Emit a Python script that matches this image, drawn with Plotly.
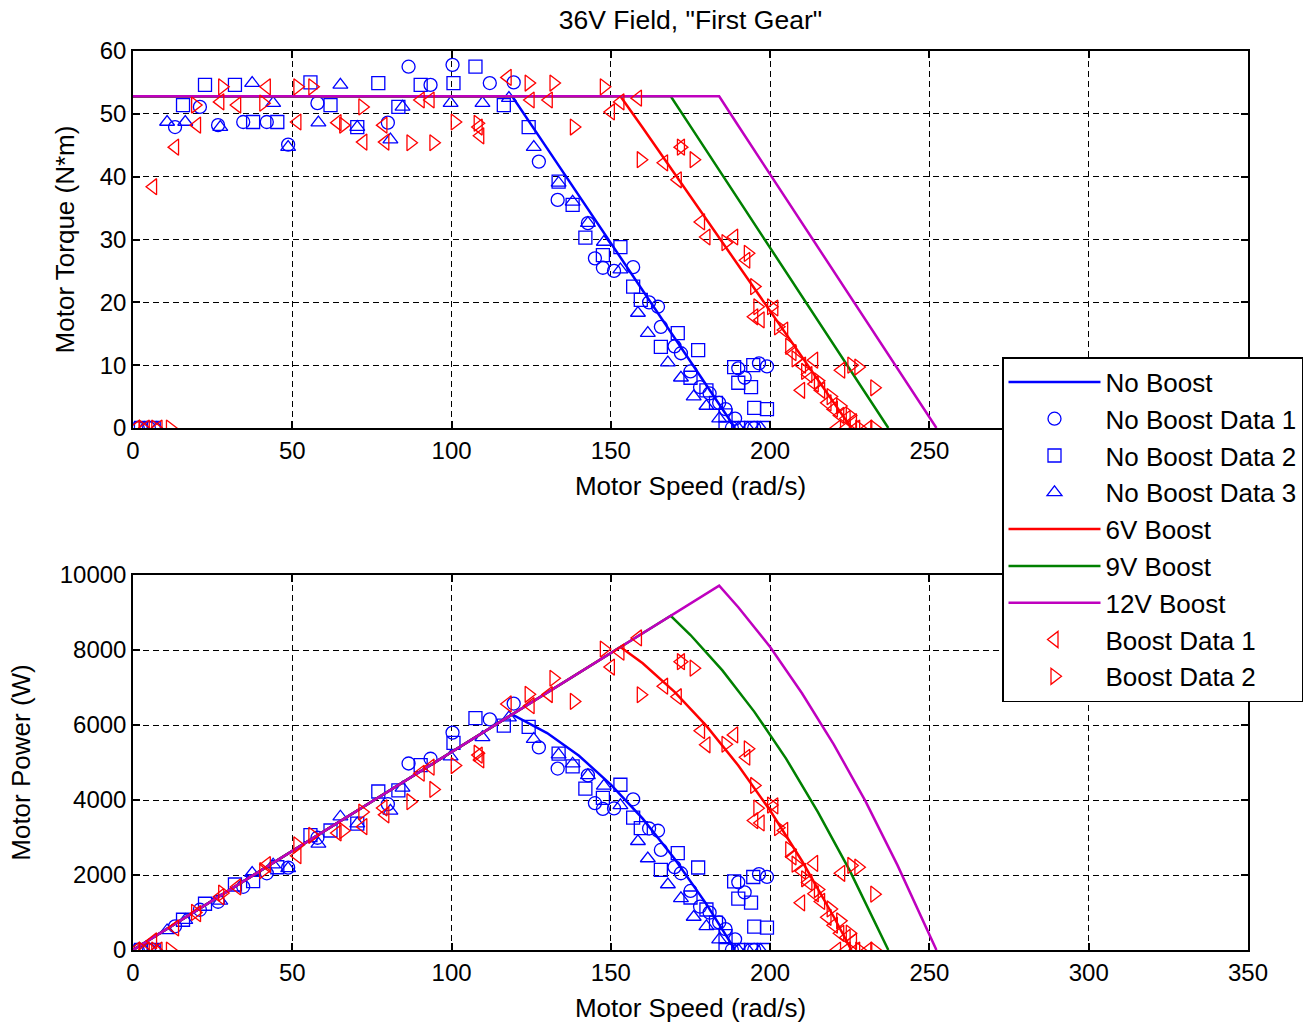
import numpy as np
import plotly.graph_objects as go

# ---- model curves: torque (N*m) vs speed (rad/s) ----
nb_line_speed = [0, 119, 130, 140, 150, 160, 170, 180, 189]
nb_line_torque = [52.8, 52.8, 44.5, 37.0, 29.4, 21.9, 14.3, 6.8, 0]

b6_line_speed = [0, 153, 160, 170, 180, 190, 200, 210, 220, 225.5]
b6_line_torque = [52.8, 52.8, 47.8, 40.5, 33.2, 25.9, 18.6, 11.3, 4.0, 0]

b9_line_speed = [0, 168.8, 175, 185, 195, 205, 215, 225, 237.1]
b9_line_torque = [52.8, 52.8, 48.0, 40.3, 32.6, 24.9, 17.1, 9.4, 0]

b12_line_speed = [0, 184, 190, 200, 210, 220, 230, 240, 252.2]
b12_line_torque = [52.8, 52.8, 48.1, 40.4, 32.6, 24.9, 17.2, 9.4, 0]

# ---- measured data: speed (rad/s), torque (N*m) ----
nb1_speed = [1.5, 5, 13.2, 21, 26.7, 34.6, 42, 48.7, 57.9, 80, 86.5, 93.4, 100.3, 112, 119.5,
             127.4, 133.3, 142.8, 145, 147.5, 151, 157, 162, 164.8, 165.7, 170, 172, 175, 178,
             181, 184, 186, 189, 190, 192, 196.5, 199, 188, 195]
nb1_torque = [0, 0, 47.9, 51.1, 48.2, 48.7, 48.7, 45.1, 51.7, 48.6, 57.5, 54.6, 57.8, 54.9, 55,
              42.4, 36.3, 32.6, 27, 25.5, 25, 25.6, 20, 19.3, 16.1, 13, 11.9, 9, 6.5,
              5.5, 4, 3, 1.5, 9.5, 8, 10.3, 9.8, 0, 0]

nb2_speed = [2.5, 6.5, 15.7, 22.6, 32, 37.7, 45.3, 55.7, 62, 70.4, 77, 83.3, 90.3, 100.6, 107.5,
             116.4, 124.2, 133.6, 138, 142, 147.5, 153, 157, 159.4, 165.7, 171, 177.4, 175, 180,
             183, 186, 188.7, 190, 194, 195, 194.7, 186, 190, 194, 198, 199]
nb2_torque = [0, 0, 51.4, 54.6, 54.6, 48.7, 48.7, 55, 51.4, 47.9, 54.9, 51.1, 54.6, 54.9, 57.5,
              51.4, 47.9, 39.2, 35.5, 30.3, 27.5, 28.8, 22.5, 20.4, 12.9, 15.1, 12.4, 8, 6,
              4, 2, 9.7, 7.2, 6.5, 3.2, 10, 0, 0, 0, 0, 3]

nb3_speed = [3.5, 7.5, 10.7, 16.4, 27.4, 37.4, 44, 48.7, 58.2, 65.1, 70.4, 80.8, 84.6, 99.7,
             109.7, 118, 125.8, 133.6, 138, 142.8, 147.8, 153, 158.5, 161.6, 167.9, 172, 176,
             180, 184, 190, 193, 197]
nb3_torque = [0, 0, 48.7, 48.7, 47.9, 54.9, 51.7, 44.7, 48.6, 54.6, 47.9, 45.9, 51.1, 51.7,
              51.7, 52.5, 44.7, 39, 36, 32.6, 29.6, 25.2, 18.3, 15.1, 10.4, 8, 5,
              3.5, 1.5, 0, 0, 0]

bd1_speed = [1, 4, 8, 6.3, 13.2, 20.1, 27.4, 32.7, 42, 51.6, 64.2, 72.3, 78.6, 79.2, 90.3, 93.4,
             108.5, 109, 117.6, 124.8, 130.5, 150, 153, 158.5, 166.7, 171, 172, 178.3, 180,
             188.7, 192.5, 195, 197, 201.3, 204.4, 207, 209.7, 210, 212, 213.8, 214, 216, 218,
             220, 222, 222.3, 224, 226, 221, 224, 227, 230.8]
bd1_torque = [0, 0, 0, 38.4, 44.7, 48.2, 51.9, 51.4, 54.3, 48.7, 48.6, 45.5, 48.2, 45.5, 52.2, 52.2,
              47.9, 46.5, 55.8, 52.2, 52.2, 50.3, 51.9, 52.5, 42.2, 39.5, 44.7, 32.8, 30.4,
              30.4, 26.7, 17.7, 17.2, 19.1, 15.6, 12, 6, 10, 8.5, 10.8, 7, 6, 4,
              3, 2, 9.2, 1.5, 1, 0, 0, 0, 0]

bd2_speed = [3, 7, 11.6, 19.5, 28, 40.9, 51.6, 56.3, 66, 72, 87.1, 94.3, 101, 108.2, 124.2, 132,
             138.4, 147.8, 159.4, 172, 176, 186, 193, 195, 196, 200.3, 202.5, 206, 208, 211,
             215, 219, 222, 225.5, 227.7, 232.7, 225, 228, 232.7]
bd2_torque = [0, 0, 0, 51.4, 54.3, 51.7, 54.3, 54.3, 48.2, 51.1, 45.4, 45.4, 48.7, 48.5, 54.9, 54.9,
              47.9, 54.3, 42.7, 44.7, 42.7, 29.5, 27.8, 22.5, 19.3, 19.3, 16.1, 13, 11, 9,
              7.5, 5, 3.5, 10, 9.7, 6.4, 2, 0, 0]

x_ticks = [0, 50, 100, 150, 200, 250, 300, 350]
# upper panel: the 300/350 labels sit under the legend box
x_ticktext_top = ["0", "50", "100", "150", "200", "250", "", ""]
x_ticktext_bottom = ["0", "50", "100", "150", "200", "250", "300", "350"]

BLUE = "#0000FF"
RED = "#FF0000"
GREEN = "#008000"
MAGENTA = "#BF00BF"
FONT = "Liberation Sans, Arial, sans-serif"
FS_TICK = 24
FS_AXTITLE = 26
FS_TITLE = 26.5
FS_LEGEND = 26


def power(speed, torque):
    return (np.asarray(speed, dtype=float) * np.asarray(torque, dtype=float)).tolist()


lines = [
    ("No Boost", nb_line_speed, nb_line_torque, BLUE),
]
data_nb = [
    ("No Boost Data 1", nb1_speed, nb1_torque, "circle-open"),
    ("No Boost Data 2", nb2_speed, nb2_torque, "square-open"),
    ("No Boost Data 3", nb3_speed, nb3_torque, "triangle-up-open"),
]
lines_boost = [
    ("6V Boost", b6_line_speed, b6_line_torque, RED),
    ("9V Boost", b9_line_speed, b9_line_torque, GREEN),
    ("12V Boost", b12_line_speed, b12_line_torque, MAGENTA),
]
data_boost = [
    ("Boost Data 1", bd1_speed, bd1_torque, "triangle-left-open"),
    ("Boost Data 2", bd2_speed, bd2_torque, "triangle-right-open"),
]

fig = go.Figure()

for panel, (xa, ya) in enumerate([("x", "y"), ("x2", "y2")]):
    top = panel == 0

    def yv(s, t):
        return t if top else power(s, t)

    for name, s, t, c in lines:
        fig.add_trace(go.Scatter(x=s, y=yv(s, t), mode="lines", name=name,
                                 line=dict(color=c, width=2.5), xaxis=xa, yaxis=ya,
                                 showlegend=top))
    for name, s, t, sym in data_nb:
        fig.add_trace(go.Scatter(x=s, y=yv(s, t), mode="markers", name=name,
                                 marker=dict(symbol=sym, size=13, color=BLUE,
                                             line=dict(color=BLUE, width=1.3)),
                                 xaxis=xa, yaxis=ya, showlegend=top))
    for name, s, t, c in lines_boost:
        fig.add_trace(go.Scatter(x=s, y=yv(s, t), mode="lines", name=name,
                                 line=dict(color=c, width=2.5), xaxis=xa, yaxis=ya,
                                 showlegend=top))
    for name, s, t, sym in data_boost:
        fig.add_trace(go.Scatter(x=s, y=yv(s, t), mode="markers", name=name,
                                 marker=dict(symbol=sym, size=14, color=RED,
                                             line=dict(color=RED, width=1.3)),
                                 xaxis=xa, yaxis=ya, showlegend=top))

axis_common = dict(
    showline=True, linecolor="black", linewidth=1.5, mirror="ticks",
    ticks="inside", ticklen=7, tickcolor="black", tickwidth=1.5,
    showgrid=True, gridcolor="black", gridwidth=1, griddash="6px,4px",
    zeroline=False, tickfont=dict(family=FONT, size=FS_TICK, color="black"),
    tickformat="d",
)
title_font = dict(family=FONT, size=FS_AXTITLE, color="black")

W, H = 1310, 1023
L, R, T, B = 133, 1310 - 1248, 51, 1023 - 950
ph = H - T - B


def py(pix):
    return (H - B - pix) / ph


fig.update_layout(
    width=W, height=H,
    margin=dict(l=L, r=R, t=T, b=B, autoexpand=False),
    paper_bgcolor="white", plot_bgcolor="white",
    font=dict(family=FONT, size=FS_TICK, color="black"),
    title=dict(text='36V Field, "First Gear"', x=(L + 1248) / 2 / W, xanchor="center",
               y=1 - 20 / H, yanchor="middle", font=dict(family=FONT, size=FS_TITLE)),
    xaxis=dict(axis_common, domain=[0, 1], range=[0, 350], tickvals=x_ticks,
               ticktext=x_ticktext_top, anchor="y",
               title=dict(text="Motor Speed (rad/s)", standoff=14, font=title_font)),
    yaxis=dict(axis_common, domain=[py(428), 1], range=[0, 60], dtick=10, anchor="x",
               title=dict(text="Motor Torque (N*m)", standoff=18, font=title_font)),
    xaxis2=dict(axis_common, domain=[0, 1], range=[0, 350], tickvals=x_ticks,
                ticktext=x_ticktext_bottom, anchor="y2",
                title=dict(text="Motor Speed (rad/s)", standoff=14, font=title_font)),
    yaxis2=dict(axis_common, domain=[0, py(575)], range=[0, 10000], dtick=2000, anchor="x2",
                title=dict(text="Motor Power (W)", standoff=22, font=title_font)),
    legend=dict(x=(1002 - L) / (1248 - L), y=py(357), xanchor="left", yanchor="top",
                bgcolor="white", bordercolor="black", borderwidth=1.5,
                font=dict(family=FONT, size=FS_LEGEND, color="black"),
                itemwidth=92, tracegroupgap=0),
    showlegend=True,
)

fig.write_html("out.html")
